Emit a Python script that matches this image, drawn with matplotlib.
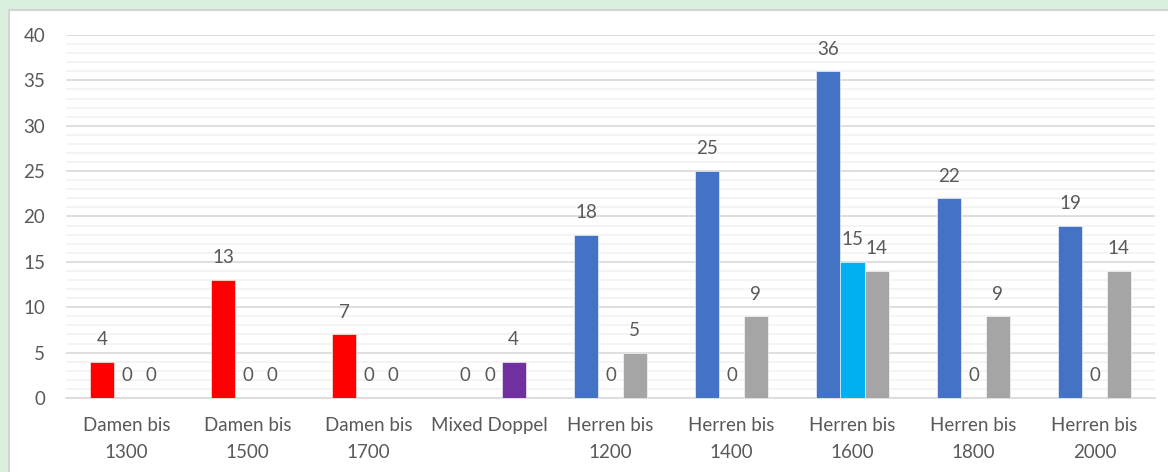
import matplotlib.pyplot as plt
from matplotlib.patches import Rectangle
from matplotlib.ticker import MultipleLocator
import numpy as np

plt.rcParams['font.family'] = ['Lato', 'DejaVu Sans']

categories = ['Damen bis\n1300', 'Damen bis\n1500', 'Damen bis\n1700', 'Mixed Doppel',
              'Herren bis\n1200', 'Herren bis\n1400', 'Herren bis\n1600', 'Herren bis\n1800',
              'Herren bis\n2000']
series1 = [4, 13, 7, 0, 18, 25, 36, 22, 19]
series2 = [0, 0, 0, 0, 0, 0, 15, 0, 0]
series3 = [0, 0, 0, 4, 5, 9, 14, 9, 14]

red = '#FF0000'
blue = '#4472C4'
cyan = '#00B0F0'
grey = '#A5A5A5'
purple = '#7030A0'
colors1 = [red, red, red, blue, blue, blue, blue, blue, blue]
colors2 = [cyan] * 9
colors3 = [grey, grey, grey, purple, grey, grey, grey, grey, grey]

txt = '#595959'
fs = 13.5

fig = plt.figure(figsize=(11.68, 4.72), dpi=100)
fig.patch.set_facecolor('#DAEFDD')
fig.patches.append(Rectangle((9 / 1168, -0.1), 1.2, 1.1 - 10 / 472, transform=fig.transFigure,
                             facecolor='white', edgecolor='#D4D4D4', linewidth=1.5, zorder=-5))

ax = fig.add_axes([66 / 1168, 1 - 398 / 472, (1155 - 66) / 1168, (398 - 35) / 472])
ax.set_facecolor('none')
ax.set_zorder(2)

x = np.arange(len(categories))
w = 0.2
for vals, cols, off in [(series1, colors1, -w), (series2, colors2, 0), (series3, colors3, w)]:
    bars = ax.bar(x + off, vals, w, color=cols, edgecolor='white', linewidth=0.4, zorder=3)
    for b, v in zip(bars, vals):
        ax.annotate(str(v), (b.get_x() + b.get_width() / 2, v), xytext=(0, 16),
                    textcoords='offset points', ha='center', va='center',
                    fontsize=fs, color=txt, zorder=4)

ax.set_xlim(-0.5, len(categories) - 0.5)
ax.set_ylim(0, 40)
ax.yaxis.set_major_locator(MultipleLocator(5))
ax.yaxis.set_minor_locator(MultipleLocator(1))
ax.grid(axis='y', which='major', color='#D9D9D9', linewidth=1.2, zorder=1)
ax.grid(axis='y', which='minor', color='#F2F2F2', linewidth=1.2, zorder=1)
ax.set_xticks(x)
ax.set_xticklabels(categories, fontsize=fs, color=txt, linespacing=1.65)
ax.tick_params(axis='x', length=0, pad=14)
ax.tick_params(axis='y', which='both', length=0, pad=15, labelsize=fs, labelcolor=txt)
for s in ['top', 'right', 'left']:
    ax.spines[s].set_visible(False)
ax.spines['bottom'].set_color('#D9D9D9')
ax.spines['bottom'].set_linewidth(1.2)

fig.savefig('out.png', dpi=100, facecolor=fig.get_facecolor())
